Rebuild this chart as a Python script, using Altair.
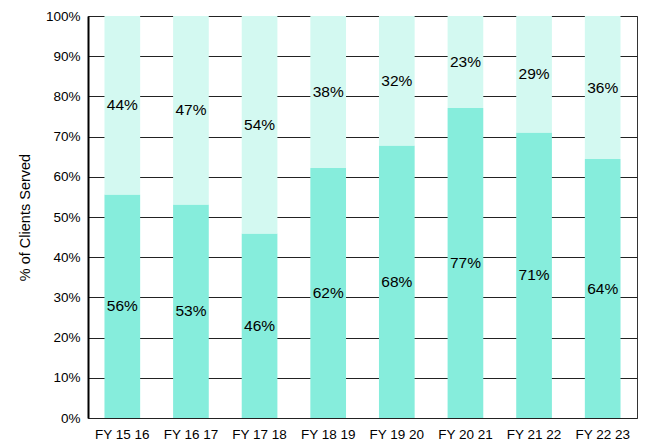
import altair as alt
import pandas as pd

years = ["FY 15 16", "FY 16 17", "FY 17 18", "FY 18 19", "FY 19 20", "FY 20 21", "FY 21 22", "FY 22 23"]
lower = [55.6, 53.1, 45.9, 62.2, 67.8, 77.1, 71.0, 64.4]
upper = [44.4, 46.9, 54.1, 37.8, 32.2, 22.9, 29.0, 35.6]

rows = []
for y, lo, up in zip(years, lower, upper):
    rows.append({"year": y, "seg": "A", "ord": 0, "value": lo})
    rows.append({"year": y, "seg": "B", "ord": 1, "value": up})
df = pd.DataFrame(rows)

base = alt.Chart(df).transform_stack(
    stack="value", groupby=["year"], as_=["v0", "v1"], sort=[alt.SortField("ord", order="ascending")]
).transform_calculate(
    mid="(datum.v0 + datum.v1) / 2",
    label="format(datum.value / 100, '.0%')"
)

xenc = alt.X("year:N", sort=years, title=None,
             scale=alt.Scale(paddingInner=0.48, paddingOuter=0.24),
             axis=alt.Axis(labelAngle=0, labelFontSize=13.5, labelColor="#000", labelFont="Liberation Sans",
                           domain=False, ticks=False, labelPadding=9))

bars = base.mark_bar().encode(
    x=xenc,
    y=alt.Y("v0:Q", scale=alt.Scale(domain=[0, 100]), title="% of Clients Served",
            axis=alt.Axis(values=list(range(0, 101, 10)), labelExpr="datum.value + '%'",
                          labelFontSize=13.5, labelColor="#000", labelFont="Liberation Sans",
                          titleFontSize=14.5, titleFont="Liberation Sans", titleFontWeight="normal",
                          titleColor="#000", titlePadding=13,
                          grid=True, gridColor="#222", gridWidth=1,
                          domain=True, domainColor="#000", domainWidth=2, ticks=False, labelPadding=8)),
    y2="v1:Q",
    color=alt.Color("seg:N", scale=alt.Scale(domain=["A", "B"], range=["#86EDDC", "#D3F9F1"]), legend=None),
)

texts = base.mark_text(fontSize=15.5, font="Liberation Sans", color="#000").encode(
    x=alt.X("year:N", sort=years),
    y=alt.Y("mid:Q"),
    text="label:N",
)

chart = (bars + texts).properties(
    width=549, height=402,
    autosize=alt.AutoSizeParams(type="none"),
    padding={"left": 80, "top": 8, "right": 3, "bottom": 24},
).configure_view(stroke="#333", strokeWidth=1)

chart.save("out.html", embed_options={"renderer": "svg", "actions": False})
